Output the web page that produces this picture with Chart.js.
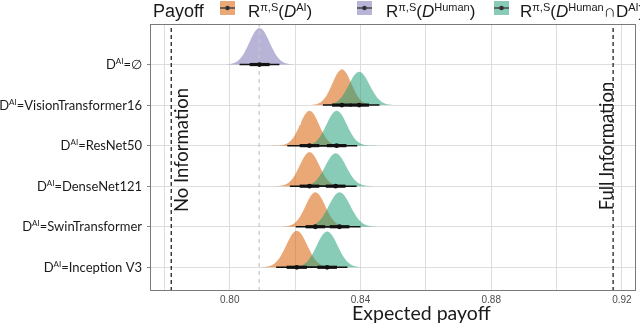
<!DOCTYPE html>
<html>
<head>
<meta charset="utf-8">
<script src="https://cdn.jsdelivr.net/npm/chart.js@4.4.1/dist/chart.umd.min.js"></script>
<style>
  html, body { margin: 0; padding: 0; background: #fff; }
</style>
</head>
<body>
<canvas id="chart" width="640" height="325"></canvas>
<script>
// rows, top to bottom
const categories = ['∅', 'VisionTransformer16', 'ResNet50', 'DenseNet121', 'SwinTransformer', 'Inception V3'];

// R(D^AI) - orange
const aiMedian = [null, 0.8343, 0.8244, 0.8244, 0.8262, 0.8205];
const aiSd = [null, 0.0029, 0.0029, 0.0030, 0.0030, 0.0032];
const aiPeak = [null, 0.88, 0.86, 0.84, 0.85, 0.90];
const aiThick = [null, [0.8313, 0.8373], [0.8214, 0.8274], [0.8214, 0.8274], [0.8232, 0.8292], [0.8174, 0.8236]];
const aiThin = [null, [0.8285, 0.8401], [0.8176, 0.8306], [0.8184, 0.8304], [0.8202, 0.8322], [0.8142, 0.8268]];

// R(D^Human) - purple
const humanMedian = [0.8091, null, null, null, null, null];
const humanSd = [0.0031, null, null, null, null, null];
const humanPeak = [0.90, null, null, null, null, null];
const humanThick = [[0.8061, 0.8122], null, null, null, null, null];
const humanThin = [[0.8030, 0.8152], null, null, null, null, null];

// R(D^Human ∩ D^AI) - teal
const bothMedian = [null, 0.8396, 0.8327, 0.8324, 0.8336, 0.8298];
const bothSd = [null, 0.0032, 0.0031, 0.0032, 0.0033, 0.0032];
const bothPeak = [null, 0.82, 0.86, 0.81, 0.85, 0.88];
const bothThick = [null, [0.8366, 0.8426], [0.8297, 0.8357], [0.8294, 0.8354], [0.8306, 0.8366], [0.8268, 0.8328]];
const bothThin = [null, [0.8334, 0.8458], [0.8265, 0.8390], [0.8262, 0.8388], [0.8272, 0.8400], [0.8236, 0.8360]];

const noInformation = 0.7821;
const fullInformation = 0.9173;
const humanReference = 0.8090;

const xGrid = [0.78, 0.80, 0.82, 0.84, 0.86, 0.88, 0.90, 0.92];
const xMajor = [0.80, 0.84, 0.88, 0.92];

const X_MIN = 0.7756, X_MAX = 0.9243;
const Y_MIN = 0.415, Y_MAX = 7.0;

const rowY = (i) => categories.length - i;

const ORANGE = 'rgba(217, 95, 2, 0.54)';
const PURPLE = 'rgba(117, 112, 179, 0.52)';
const TEAL = 'rgba(27, 158, 119, 0.52)';
const INK = '#111111';

const datasets = [];

const addDensity = (median, sd, peak, color, order) => {
  median.forEach((m, i) => {
    if (m === null) return;
    const base = rowY(i);
    const pts = [];
    for (let k = -40; k <= 40; k++) {
      const z = k / 10;
      pts.push({ x: m + z * sd[i], y: base + peak[i] * Math.exp(-0.5 * z * z) });
    }
    datasets.push({
      type: 'line',
      data: pts,
      borderWidth: 0,
      borderColor: 'rgba(0,0,0,0)',
      backgroundColor: color,
      pointRadius: 0,
      fill: { value: base },
      order: order,
    });
  });
};

const addIntervals = (ranges, width, order) => {
  ranges.forEach((r, i) => {
    if (r === null) return;
    datasets.push({
      type: 'line',
      data: [{ x: r[0], y: rowY(i) }, { x: r[1], y: rowY(i) }],
      borderColor: INK,
      borderWidth: width,
      borderCapStyle: 'butt',
      pointRadius: 0,
      fill: false,
      order: order,
    });
  });
};

const vline = (x, color, dash, width, order) => ({
  type: 'line',
  data: [{ x: x, y: Y_MIN }, { x: x, y: Y_MAX }],
  borderColor: color,
  borderDash: dash,
  borderWidth: width,
  pointRadius: 0,
  fill: false,
  order: order,
});

addDensity(humanMedian, humanSd, humanPeak, PURPLE, 30);
addDensity(aiMedian, aiSd, aiPeak, ORANGE, 29);
addDensity(bothMedian, bothSd, bothPeak, TEAL, 28);
datasets.push(vline(noInformation, '#222', [4, 3], 1.3, 31));
datasets.push(vline(fullInformation, '#222', [4, 3], 1.3, 31));
datasets.push(vline(humanReference, '#c6c6c6', [4, 4], 1.2, 27));
addIntervals(humanThin, 1.5, 20);
addIntervals(aiThin, 1.5, 20);
addIntervals(bothThin, 1.5, 20);
addIntervals(humanThick, 3.2, 19);
addIntervals(aiThick, 3.2, 19);
addIntervals(bothThick, 3.2, 19);

const medianPoints = [];
[humanMedian, aiMedian, bothMedian].forEach((arr) =>
  arr.forEach((m, i) => {
    if (m !== null) medianPoints.push({ x: m, y: rowY(i) });
  })
);
datasets.push({
  type: 'scatter',
  data: medianPoints,
  backgroundColor: INK,
  borderWidth: 0,
  pointRadius: 2.4,
  order: 10,
});

// text with superscripts / italics
const drawRich = (ctx, parts, x, y, align, family) => {
  const fontOf = (p) => `${p.italic ? 'italic ' : ''}${p.size}px ${family}`;
  let total = 0;
  parts.forEach((p) => {
    ctx.font = fontOf(p);
    total += ctx.measureText(p.t).width;
  });
  let cx = align === 'right' ? x - total : x;
  ctx.textAlign = 'left';
  ctx.textBaseline = 'alphabetic';
  parts.forEach((p) => {
    ctx.font = fontOf(p);
    ctx.fillText(p.t, cx, y + (p.dy || 0));
    cx += ctx.measureText(p.t).width;
  });
};

const LEG = '"Liberation Sans", Arial, sans-serif';
const legendItems = [
  { color: ORANGE, box: 220, label: 248, parts: [{ t: 'R', size: 17 }, { t: 'π,S', size: 11, dy: -6 }, { t: '(', size: 17 }, { t: 'D', size: 17, italic: true }, { t: 'AI', size: 11, dy: -6 }, { t: ')', size: 17 }] },
  { color: PURPLE, box: 357, label: 386, parts: [{ t: 'R', size: 17 }, { t: 'π,S', size: 11, dy: -6 }, { t: '(', size: 17 }, { t: 'D', size: 17, italic: true }, { t: 'Human', size: 11, dy: -6 }, { t: ')', size: 17 }] },
  { color: TEAL, box: 494, label: 520, parts: [{ t: 'R', size: 17 }, { t: 'π,S', size: 11, dy: -6 }, { t: '(', size: 17 }, { t: 'D', size: 17, italic: true }, { t: 'Human', size: 11, dy: -6 }, { t: '∩D', size: 17 }, { t: 'AI', size: 11, dy: -6 }, { t: ')', size: 17 }] },
];

const textPlugin = {
  id: 'texts',
  afterDraw(chart) {
    const { ctx, chartArea, scales } = chart;
    ctx.save();

    // panel border
    ctx.strokeStyle = '#7a7a7a';
    ctx.lineWidth = 1;
    ctx.strokeRect(chartArea.left + 0.5, chartArea.top + 0.5, chartArea.right - chartArea.left - 1, chartArea.bottom - chartArea.top - 1);

    ctx.fillStyle = '#1a1a1a';
    // y labels
    categories.forEach((c, i) => {
      const py = scales.y.getPixelForValue(rowY(i));
      drawRich(ctx, [{ t: 'D', size: 13 }, { t: 'AI', size: 8, dy: -5 }, { t: '=' + c, size: 13 }], 142, py + 4.5, 'right', 'Lato');
    });

    // legend
    ctx.font = '18px ' + LEG;
    ctx.fillText('Payoff', 153, 17);
    legendItems.forEach((it) => {
      ctx.fillStyle = it.color;
      ctx.fillRect(it.box, 1, 15, 14);
      ctx.strokeStyle = '#333';
      ctx.lineWidth = 1.3;
      ctx.beginPath();
      ctx.moveTo(it.box, 8);
      ctx.lineTo(it.box + 15, 8);
      ctx.stroke();
      ctx.fillStyle = '#333';
      ctx.beginPath();
      ctx.arc(it.box + 7.5, 8, 2.3, 0, Math.PI * 2);
      ctx.fill();
      ctx.fillStyle = '#1a1a1a';
      drawRich(ctx, it.parts, it.label, 17, 'left', LEG);
    });

    // reference annotations
    ctx.font = '18.5px Lato';
    ctx.textAlign = 'center';
    ctx.textBaseline = 'alphabetic';
    ctx.save();
    ctx.translate(188, 150);
    ctx.rotate(-Math.PI / 2);
    ctx.fillText('No Information', 0, 0);
    ctx.restore();
    ctx.save();
    ctx.translate(613, 146);
    ctx.rotate(-Math.PI / 2);
    ctx.fillText('Full Information', 0, 0);
    ctx.restore();

    // x title
    ctx.textAlign = 'left';
    ctx.font = '19.5px Lato';
    ctx.fillText('Expected payoff', 352, 320);
    ctx.restore();
  },
};

new Chart(document.getElementById('chart'), {
  type: 'line',
  data: { datasets: datasets },
  plugins: [textPlugin],
  options: {
    responsive: false,
    animation: false,
    devicePixelRatio: 1,
    layout: { padding: { top: 24, right: 2, left: 0, bottom: 0 } },
    plugins: {
      legend: { display: false },
      tooltip: { enabled: false },
    },
    scales: {
      x: {
        type: 'linear',
        min: X_MIN,
        max: X_MAX,
        afterBuildTicks: (axis) => {
          axis.ticks = xGrid.map((v) => ({ value: v }));
        },
        afterFit: (axis) => {
          axis.height = 34;
        },
        ticks: {
          autoSkip: false,
          maxRotation: 0,
          padding: 3,
          color: '#4d4d4d',
          font: { family: 'Liberation Sans', size: 10 },
          callback: (v) => (xMajor.some((m) => Math.abs(m - v) < 1e-6) ? Number(v).toFixed(2) : ''),
        },
        grid: { color: '#dedede', drawTicks: false },
        border: { display: false },
      },
      y: {
        type: 'linear',
        min: Y_MIN,
        max: Y_MAX,
        afterBuildTicks: (axis) => {
          axis.ticks = categories.map((c, i) => ({ value: rowY(i) }));
        },
        afterFit: (axis) => {
          axis.width = 150;
        },
        ticks: { display: false },
        grid: { color: '#dedede', tickColor: '#888', tickLength: 3 },
        border: { display: false },
      },
    },
  },
});
</script>
</body>
</html>
